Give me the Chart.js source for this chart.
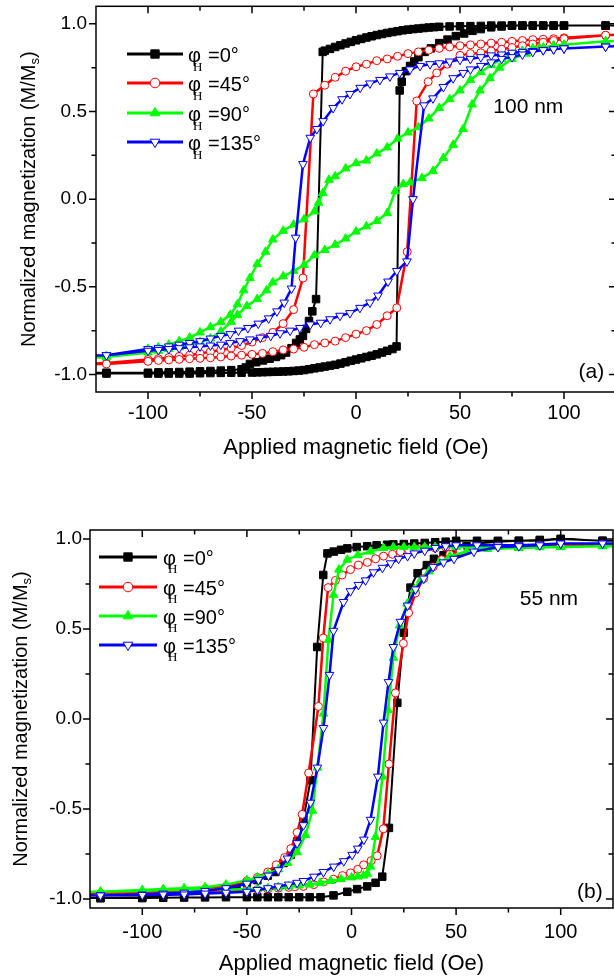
<!DOCTYPE html>
<html><head><meta charset="utf-8">
<script src="https://cdn.jsdelivr.net/npm/chart.js@4.4.1/dist/chart.umd.min.js"></script>
<style>
html,body{margin:0;padding:0;background:#fff;overflow:hidden;width:614px;height:980px;}
canvas{position:absolute;left:0;}
#ca{top:0;}
#cb{top:490px;}
</style></head><body>
<canvas id="ca" width="624" height="470"></canvas>
<canvas id="cb" width="624" height="490"></canvas>
<script>
// ---------- tick labels / categories ----------
const angleLabels = ['0°', '45°', '90°', '135°'];
const fieldTicks = [-100, -50, 0, 50, 100];
const fieldMinorTicks = [-75, -25, 25, 75];
const magTicks = [-1.0, -0.5, 0.0, 0.5, 1.0];
const magMinorTicks = [-0.75, -0.25, 0.25, 0.75];

// ---------- panel (a) 100 nm : loops (descending branch then ascending branch) ----------
const a0Field = [130,120,100,95,90,85,80,75,70,65,60,55,50,45,40,37.5,35,32.5,30,27.5,25,22.5,20,17.5,15,12.5,10,7.5,5,2.5,0,-2.5,-5,-7.5,-10,-12.5,-15,-16,-19.2,-21,-22.6,-24,-25.5,-27,-28.8,-31,-33.6,-36,-38.5,-41.5,-44.7,-48,-51,-53,-55,-60,-65,-70,-75,-80,-85,-90,-95,-100,-120,-130,
  -130,-120,-100,-95,-90,-85,-80,-75,-70,-65,-60,-55,-50,-47.5,-45,-42.5,-40,-37.5,-35,-32.5,-30,-27.5,-25,-22.5,-20,-17.5,-15,-12.5,-10,-7.5,-5,-2.5,0,2.5,5,7.5,10,12.5,15,17.5,19.5,21,22,24,26,28,30,33,36,40,44,48,52,56,60,65,70,75,80,85,90,95,100,120,130];
const a0Mag = [0.99,0.99,0.99,0.99,0.99,0.99,0.99,0.99,0.99,0.99,0.988,0.987,0.986,0.985,0.983,0.981,0.979,0.976,0.973,0.97,0.967,0.963,0.958,0.953,0.948,0.942,0.936,0.929,0.922,0.914,0.906,0.897,0.888,0.878,0.868,0.857,0.847,0.84,-0.57,-0.64,-0.695,-0.74,-0.78,-0.80,-0.82,-0.85,-0.875,-0.89,-0.9,-0.91,-0.92,-0.93,-0.94,-0.96,-0.97,-0.975,-0.978,-0.98,-0.982,-0.984,-0.986,-0.987,-0.988,-0.99,-0.99,-0.99,
  -0.995,-0.995,-0.995,-0.995,-0.995,-0.995,-0.995,-0.993,-0.992,-0.991,-0.99,-0.99,-0.989,-0.988,-0.987,-0.986,-0.985,-0.984,-0.983,-0.982,-0.98,-0.978,-0.975,-0.97,-0.965,-0.96,-0.955,-0.95,-0.945,-0.938,-0.93,-0.922,-0.915,-0.908,-0.9,-0.893,-0.885,-0.875,-0.865,-0.855,-0.84,0.62,0.67,0.73,0.76,0.785,0.81,0.84,0.86,0.89,0.91,0.93,0.945,0.96,0.97,0.98,0.985,0.99,0.99,0.99,0.99,0.99,0.99,0.99,0.99];

const a45Field = [130,120,100,95,90,85,80,75,70,65,60,55,50,45,40,35,30,25,20,15,10,5,0,-5,-10,-15,-20.5,-25.5,-30,-35,-40,-45,-50,-55,-60,-65,-70,-75,-80,-85,-90,-95,-100,-120,-130,
  -130,-120,-100,-95,-90,-85,-80,-75,-70,-65,-60,-55,-50,-45,-40,-35,-30,-25,-20,-15,-10,-5,0,5,10,15,19.6,24.6,29.2,34.7,38.8,44,50,55,60,65,70,75,80,85,90,95,100,120,130];
const a45Mag = [0.94,0.935,0.92,0.915,0.912,0.91,0.905,0.9,0.895,0.89,0.885,0.88,0.875,0.868,0.86,0.85,0.84,0.83,0.815,0.80,0.79,0.77,0.755,0.73,0.695,0.65,0.6,-0.45,-0.63,-0.71,-0.76,-0.79,-0.815,-0.835,-0.85,-0.86,-0.87,-0.88,-0.89,-0.897,-0.903,-0.91,-0.915,-0.935,-0.94,
  -0.94,-0.94,-0.925,-0.92,-0.917,-0.914,-0.91,-0.908,-0.905,-0.9,-0.895,-0.89,-0.885,-0.88,-0.87,-0.86,-0.855,-0.845,-0.83,-0.82,-0.81,-0.79,-0.77,-0.75,-0.715,-0.665,-0.62,-0.3,0.56,0.67,0.72,0.77,0.82,0.83,0.835,0.845,0.855,0.865,0.875,0.885,0.895,0.905,0.915,0.935,0.94];

const a90Field = [130,120,100,95,90,85,80,75,70,65,60,55,50,45,40,35,30,25,20,15,10,5,0,-5,-10,-13,-16,-18,-20,-25,-30,-35,-40,-43.5,-47.5,-51,-54,-57,-60.5,-65,-70,-75,-80,-85,-90,-95,-100,-120,-130,
  -130,-120,-100,-95,-90,-85,-80,-75,-70,-65,-60,-57,-52.5,-47.5,-43,-40,-35,-30,-25,-20,-15,-10,-5,0,5,10,15,18.8,22.7,26,31.7,37,42,46.7,51.5,55.8,59.6,64.4,69,75,82,88,95,100,120,130];
const a90Mag = [0.905,0.90,0.88,0.875,0.865,0.86,0.845,0.825,0.80,0.765,0.725,0.68,0.62,0.57,0.52,0.46,0.41,0.38,0.345,0.295,0.26,0.22,0.205,0.175,0.13,0.11,0.035,-0.02,-0.07,-0.115,-0.145,-0.18,-0.23,-0.30,-0.37,-0.45,-0.52,-0.60,-0.66,-0.70,-0.73,-0.76,-0.79,-0.81,-0.83,-0.845,-0.855,-0.895,-0.90,
  -0.905,-0.90,-0.875,-0.865,-0.855,-0.845,-0.83,-0.815,-0.795,-0.755,-0.70,-0.66,-0.61,-0.57,-0.52,-0.475,-0.44,-0.41,-0.375,-0.32,-0.29,-0.26,-0.225,-0.185,-0.155,-0.125,-0.08,0.045,0.085,0.095,0.12,0.16,0.235,0.31,0.40,0.54,0.62,0.69,0.75,0.80,0.83,0.86,0.875,0.88,0.90,0.905];

const a135Field = [130,120,100,95,90,85,80,75,70,65,60,55,50,45,40,35.6,30.8,26,21,16.3,11.5,6.7,2,-2.9,-6.7,-11,-15.8,-18.8,-22,-25.5,-29,-31,-34.5,-38,-42,-47,-52,-56.5,-60.5,-65,-70,-75,-80,-85,-90,-95,-100,-120,-130,
  -130,-120,-100,-95,-90,-85,-80,-75,-70,-65,-60.6,-55.8,-51,-46,-41,-36.5,-31.7,-27,-22,-17,-12.5,-7.7,-2.9,1.9,6.7,10.6,15.4,19.6,24.5,27.4,32.7,37,42,46.7,51.5,55,60,65,70,75,80,85,90,95,100,120,130];
const a135Mag = [0.875,0.87,0.86,0.855,0.85,0.845,0.84,0.835,0.825,0.82,0.81,0.80,0.795,0.785,0.775,0.77,0.76,0.74,0.72,0.70,0.68,0.66,0.635,0.60,0.57,0.52,0.445,0.40,0.35,0.20,-0.22,-0.51,-0.59,-0.64,-0.68,-0.71,-0.735,-0.75,-0.77,-0.78,-0.795,-0.81,-0.82,-0.83,-0.84,-0.85,-0.855,-0.89,-0.895,
  -0.895,-0.89,-0.865,-0.86,-0.855,-0.85,-0.845,-0.84,-0.835,-0.83,-0.82,-0.81,-0.80,-0.79,-0.78,-0.765,-0.75,-0.735,-0.715,-0.705,-0.685,-0.665,-0.65,-0.62,-0.59,-0.55,-0.47,-0.41,-0.355,0.0,0.535,0.575,0.64,0.69,0.72,0.74,0.76,0.78,0.80,0.81,0.825,0.84,0.85,0.855,0.86,0.87,0.875];

// ---------- panel (b) 55 nm ----------
const b0Field = [130,120,100,90,80,70,60,50,45,40,35,30,25,20,17,12,7.5,2.5,-2,-5,-8.5,-11.5,-13.5,-16.4,-19.6,-23,-26,-29,-32.5,-36.4,-40,-45,-50,-55,-60,-70,-80,-90,-100,-120,-130,
  -130,-120,-100,-90,-80,-70,-60,-50,-45,-40,-35,-30,-25,-20,-14.8,-8.6,-2,2.7,7.5,11.5,14.7,17.9,21.9,25,28.2,31.6,36,39.4,44,50,55,60,70,80,90,100,120,130];
const b0Mag = [0.99,0.99,1.0,0.995,0.99,0.99,0.99,0.99,0.985,0.982,0.978,0.975,0.972,0.97,0.968,0.965,0.96,0.955,0.948,0.94,0.93,0.92,0.80,0.40,-0.34,-0.56,-0.68,-0.755,-0.80,-0.85,-0.87,-0.895,-0.91,-0.93,-0.945,-0.96,-0.97,-0.98,-0.99,-0.995,-0.995,
  -0.995,-0.995,-0.995,-0.993,-0.992,-0.991,-0.99,-0.99,-0.99,-0.99,-0.99,-0.99,-0.99,-0.99,-0.99,-0.98,-0.96,-0.945,-0.93,-0.91,-0.876,-0.605,0.09,0.48,0.73,0.81,0.855,0.89,0.91,0.93,0.96,0.975,0.985,0.99,0.99,1.0,0.99,0.99];

const b45Field = [130,120,100,90,80,70,60,50,45,40,35,31,27.3,23.4,19.6,15.3,11.5,7.6,3.3,-0.5,-4.5,-7.7,-11.2,-13.5,-15.8,-20.5,-23.6,-26,-29,-32,-36,-40,-45,-50,-60,-70,-80,-90,-100,-120,-130,
  -130,-120,-100,-90,-80,-70,-60,-50,-45,-40,-35,-30,-27,-23,-18,-13.3,-8.6,-4.3,-0.5,3,5.8,9.4,12.3,15.2,17.9,21,24.8,27.3,30.6,34.5,39,43,47,52,58,70,80,90,100,120,130];
const b45Mag = [0.97,0.97,0.965,0.965,0.96,0.96,0.96,0.955,0.955,0.95,0.95,0.945,0.94,0.93,0.915,0.905,0.89,0.87,0.855,0.83,0.80,0.77,0.73,0.45,0.07,-0.30,-0.53,-0.63,-0.72,-0.77,-0.81,-0.85,-0.88,-0.90,-0.93,-0.945,-0.955,-0.96,-0.965,-0.97,-0.97,
  -0.97,-0.97,-0.965,-0.96,-0.96,-0.958,-0.955,-0.95,-0.948,-0.945,-0.94,-0.935,-0.932,-0.93,-0.92,-0.905,-0.89,-0.87,-0.855,-0.835,-0.81,-0.787,-0.76,-0.61,-0.25,0.145,0.42,0.59,0.70,0.78,0.845,0.885,0.915,0.935,0.95,0.96,0.96,0.965,0.965,0.97,0.97];

const b90Field = [130,120,100,90,80,70,60,50,40,35,30,25,20,15.3,9,3,-2,-6,-8.6,-11,-13.4,-16.3,-18.7,-22,-26,-30.6,-35,-40,-45,-50,-60,-70,-80,-90,-100,-120,-130,
  -130,-120,-100,-90,-80,-70,-60,-50,-45,-40,-35,-30,-25,-20,-15,-10,-5,0,3,5.7,7.5,9.1,11.5,14.8,17.5,20,23,26.6,30,33,37,42,47,55,65,80,100,120,130];
const b90Mag = [0.96,0.96,0.955,0.955,0.955,0.955,0.955,0.955,0.955,0.955,0.955,0.955,0.955,0.95,0.93,0.91,0.885,0.83,0.69,0.44,0.03,-0.27,-0.51,-0.645,-0.74,-0.80,-0.835,-0.86,-0.88,-0.895,-0.92,-0.935,-0.94,-0.945,-0.95,-0.96,-0.96,
  -0.96,-0.96,-0.955,-0.95,-0.95,-0.95,-0.948,-0.945,-0.943,-0.94,-0.935,-0.93,-0.925,-0.92,-0.91,-0.9,-0.89,-0.88,-0.875,-0.87,-0.86,-0.82,-0.655,-0.32,0.05,0.34,0.52,0.64,0.72,0.77,0.82,0.87,0.905,0.93,0.945,0.95,0.955,0.96,0.96];

const b135Field = [130,120,100,90,80,70,60,50,45,40,35,30,26.8,22.5,18.7,14.8,10.5,6.7,3.3,-0.5,-3.8,-8.6,-10.5,-13.4,-16.3,-19.6,-23,-26,-30.6,-35,-39.7,-44.5,-50,-60,-70,-80,-90,-100,-120,-130,
  -130,-120,-100,-90,-80,-70,-60,-50,-45,-40,-35,-30,-26,-23,-18,-13.4,-8.5,-3.7,0.3,3,5.9,9.1,12.6,15.3,17.7,20,23.4,26.8,30.6,34.5,39,44,49,58.5,70,80,90,100,120,130];
const b135Mag = [0.975,0.975,0.975,0.97,0.965,0.965,0.965,0.965,0.96,0.95,0.935,0.92,0.905,0.89,0.865,0.84,0.815,0.77,0.745,0.71,0.65,0.49,0.245,-0.05,-0.27,-0.465,-0.59,-0.69,-0.775,-0.84,-0.87,-0.895,-0.915,-0.94,-0.955,-0.965,-0.97,-0.975,-0.98,-0.98,
  -0.98,-0.98,-0.978,-0.975,-0.975,-0.97,-0.965,-0.96,-0.95,-0.94,-0.93,-0.92,-0.91,-0.90,-0.876,-0.85,-0.82,-0.79,-0.755,-0.72,-0.67,-0.56,-0.32,-0.02,0.205,0.40,0.54,0.63,0.72,0.78,0.845,0.87,0.89,0.93,0.955,0.96,0.965,0.975,0.975,0.975];

// ---------- styling / layout ----------
const FONT = "'Liberation Sans', Arial, sans-serif";
const SERIF = "'Liberation Serif', 'Times New Roman', serif";
const STYLES = [
  {line:'#000000', fill:'#000000', shape:'rect', r:5.3, rot:0, lw:2, order:4},
  {line:'#FF0000', fill:'#FFFFFF', shape:'circle', r:4, rot:0, lw:2.5, order:3},
  {line:'#00FF00', fill:'#00FF00', shape:'triangle', r:5, rot:0, lw:2.5, order:2},
  {line:'#0000FF', fill:'#FFFFFF', shape:'triangle', r:5, rot:180, lw:2.5, order:1}
];

const PANELS = [
  {id:'ca', W:624, H:470, area:{left:96, top:5, right:616, bottom:392}, yMin:-1.1, yMax:1.1,
   xLabelPad:9, yLabelPad:9, titlePadBottom:9, yTitleBase:35,
   series:[[a0Field,a0Mag],[a45Field,a45Mag],[a90Field,a90Mag],[a135Field,a135Mag]],
   legend:{x0:127, x1:183, xm:155, tx:188, rows:[54,83,113,142], sub:17},
   notes:[{text:'100 nm', x:66, y:0.525, align:'left'}, {text:'(a)', x:119.3, y:-0.985, align:'right'}]},
  {id:'cb', W:624, H:490, area:{left:90, top:40, right:613, bottom:418}, yMin:-1.05, yMax:1.05,
   xLabelPad:12, yLabelPad:8, titlePadBottom:3, yTitleBase:27,
   series:[[b0Field,b0Mag],[b45Field,b45Mag],[b90Field,b90Mag],[b135Field,b135Mag]],
   legend:{x0:99, x1:157, xm:128, tx:163, rows:[67,97,126,155], sub:15.5},
   notes:[{text:'55 nm', x:80.4, y:0.667, align:'left'}, {text:'(b)', x:120.1, y:-0.96, align:'right'}]}
];

function marker(ctx, st, x, y, r){
  ctx.save();
  ctx.fillStyle = st.fill; ctx.strokeStyle = st.line; ctx.lineWidth = 1;
  ctx.beginPath();
  if (st.shape === 'rect') {
    const s = r * Math.SQRT1_2;
    ctx.rect(x - s, y - s, 2 * s, 2 * s);
  } else if (st.shape === 'circle') {
    ctx.arc(x, y, r, 0, Math.PI * 2);
  } else {
    const d = st.rot === 180 ? -1 : 1;
    ctx.moveTo(x, y - d * r);
    ctx.lineTo(x + r * 0.866, y + d * r * 0.5);
    ctx.lineTo(x - r * 0.866, y + d * r * 0.5);
    ctx.closePath();
  }
  ctx.fill(); ctx.stroke();
  ctx.restore();
}

const deco = {
  id: 'deco',
  afterDatasetsDraw(chart, args, o) {
    const ctx = chart.ctx, a = chart.chartArea, xs = chart.scales.x, ys = chart.scales.y;
    ctx.save();
    // frame
    ctx.strokeStyle = '#000'; ctx.lineWidth = 1.5;
    ctx.strokeRect(a.left, a.top, a.right - a.left, a.bottom - a.top);
    // ticks
    ctx.beginPath();
    const xt = (v, L) => { const p = xs.getPixelForValue(v);
      ctx.moveTo(p, a.bottom); ctx.lineTo(p, a.bottom + L);
      ctx.moveTo(p, a.top); ctx.lineTo(p, a.top + L); };
    const yt = (v, L) => { const p = ys.getPixelForValue(v);
      ctx.moveTo(a.left, p); ctx.lineTo(a.left - L, p);
      ctx.moveTo(a.right, p); ctx.lineTo(a.right - L, p); };
    fieldTicks.forEach(v => xt(v, 7)); fieldMinorTicks.forEach(v => xt(v, 4.5));
    magTicks.forEach(v => yt(v, 7)); magMinorTicks.forEach(v => yt(v, 4.5));
    ctx.stroke();
    // legend
    const lg = o.legend;
    STYLES.forEach((st, i) => {
      const y = lg.rows[i];
      ctx.strokeStyle = st.line; ctx.lineWidth = 3;
      ctx.beginPath(); ctx.moveTo(lg.x0, y); ctx.lineTo(lg.x1, y); ctx.stroke();
      marker(ctx, st, lg.xm, y, st.shape === 'circle' ? 4.8 : st.r + 0.6);
      ctx.fillStyle = '#000'; ctx.textAlign = 'left'; ctx.textBaseline = 'alphabetic';
      ctx.font = '20px ' + FONT;
      ctx.fillText('φ', lg.tx, y + 8);
      ctx.font = '13px ' + SERIF;
      ctx.fillText('H', lg.tx + 5, y + lg.sub);
      ctx.font = '20px ' + FONT;
      ctx.fillText('=' + angleLabels[i], lg.tx + 20, y + 8);
    });
    // notes
    ctx.fillStyle = '#000'; ctx.font = '21px ' + FONT; ctx.textBaseline = 'middle';
    o.notes.forEach(n => {
      ctx.textAlign = n.align;
      ctx.fillText(n.text, xs.getPixelForValue(n.x), ys.getPixelForValue(n.y));
    });
    // y title with subscript
    const cy = (a.top + a.bottom) / 2;
    ctx.translate(o.yTitleBase, cy);
    ctx.rotate(-Math.PI / 2);
    ctx.textAlign = 'left'; ctx.textBaseline = 'alphabetic';
    const t1 = 'Normalized magnetization (M/M', t2 = 's', t3 = ')';
    ctx.font = '20px ' + FONT; const w1 = ctx.measureText(t1).width, w3 = ctx.measureText(t3).width;
    ctx.font = '13px ' + FONT; const w2 = ctx.measureText(t2).width;
    let sx = -(w1 + w2 + w3) / 2;
    ctx.font = '20px ' + FONT; ctx.fillText(t1, sx, 0);
    ctx.font = '13px ' + FONT; ctx.fillText(t2, sx + w1, 4);
    ctx.font = '20px ' + FONT; ctx.fillText(t3, sx + w1 + w2, 0);
    ctx.restore();
  }
};

function noPad(s) { s.paddingTop = 0; s.paddingBottom = 0; s.paddingLeft = 0; s.paddingRight = 0; }

PANELS.forEach(P => {
  const datasets = P.series.map((s, i) => {
    const st = STYLES[i];
    return {
      label: 'φH=' + angleLabels[i],
      data: s[0].map((x, k) => ({x: x, y: s[1][k]})),
      showLine: true, tension: 0,
      borderColor: st.line, backgroundColor: st.fill, borderWidth: st.lw,
      pointStyle: st.shape, pointRadius: st.r, pointRotation: st.rot,
      pointBackgroundColor: st.fill, pointBorderColor: st.line, pointBorderWidth: 1,
      order: st.order
    };
  });
  new Chart(document.getElementById(P.id), {
    type: 'scatter',
    data: {datasets: datasets},
    plugins: [deco],
    options: {
      responsive: false, animation: false, devicePixelRatio: 1,
      layout: {padding: {top: P.area.top, right: P.W - P.area.right, left: 0, bottom: 0}},
      plugins: {legend: {display: false}, tooltip: {enabled: false},
        deco: {legend: P.legend, notes: P.notes, yTitleBase: P.yTitleBase}},
      scales: {
        x: {type: 'linear', position: 'bottom', min: -125, max: 125,
          afterBuildTicks: s => { s.ticks = fieldTicks.map(v => ({value: v})); },
          afterFit: s => { s.height = P.H - P.area.bottom; noPad(s); },
          grid: {display: false, drawTicks: false}, border: {display: false},
          ticks: {font: {family: FONT, size: 20}, color: '#000', padding: P.xLabelPad, maxRotation: 0, autoSkip: false,
            callback: v => String(v)},
          title: {display: true, text: 'Applied magnetic field (Oe)', color: '#000',
            font: {family: FONT, size: 22}, padding: {top: 0, bottom: P.titlePadBottom}}},
        y: {type: 'linear', position: 'left', min: P.yMin, max: P.yMax,
          afterBuildTicks: s => { s.ticks = magTicks.map(v => ({value: v})); },
          afterFit: s => { s.width = P.area.left; noPad(s); },
          grid: {display: false, drawTicks: false}, border: {display: false},
          ticks: {font: {family: FONT, size: 19}, color: '#000', padding: P.yLabelPad, autoSkip: false,
            callback: v => Number(v).toFixed(1)}}
      }
    }
  });
});
</script>
</body></html>
